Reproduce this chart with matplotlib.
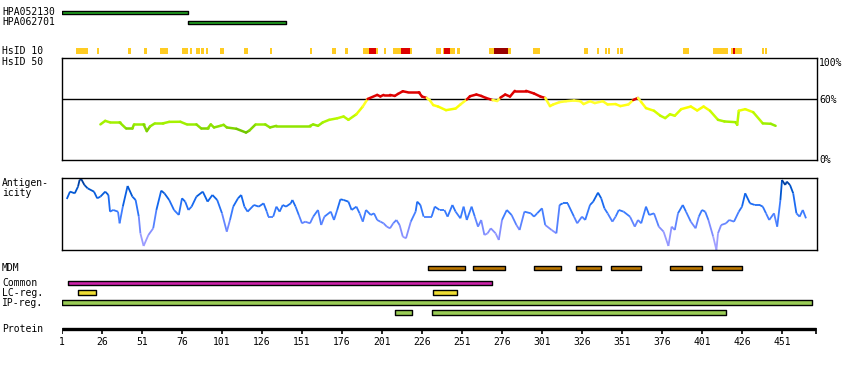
import numpy as np
import matplotlib
matplotlib.use("Agg")
import matplotlib.pyplot as plt
from matplotlib.collections import LineCollection
from matplotlib.colors import LinearSegmentedColormap

plt.rcParams['font.family'] = ['DejaVu Sans Mono']

# ---------------- data ----------------
protein_length = 472
tick_residues = [1, 26, 51, 76, 101, 126, 151, 176, 201, 226, 251, 276, 301, 326, 351, 376, 401, 426, 451]

antibodies = ["HPA052130", "HPA062701"]
antibody_start = [1, 80]
antibody_end = [80, 141]

# HsID 10 segments (residues) with level: y = >=? yellow, r = red, d = dark red
hsid10_start = [10, 23, 42, 52, 62, 76, 81, 85, 88, 91, 100, 115, 131, 156, 170, 178, 189, 193, 197,
                202, 208, 213, 218.5, 235, 239, 240, 243.5, 248, 268, 271, 280, 295.5, 327, 335.5,
                340.5, 342.5, 348, 350, 389, 408, 419, 420.5, 421.5, 438.5, 440.5]
hsid10_end = [17, 24, 44, 54, 67, 80, 82, 87, 90, 92, 102, 117, 132, 157, 172, 180, 193, 197, 198.5,
              203.5, 213, 218.5, 220, 238, 240, 243.5, 246.5, 250, 271, 280, 281.5, 300, 330, 336.5,
              341.5, 343.5, 349, 351.5, 393, 417, 420.5, 421.5, 426, 440, 441.5]
hsid10_level = ['y', 'y', 'y', 'y', 'y', 'y', 'y', 'y', 'y', 'y', 'y', 'y', 'y', 'y', 'y', 'y', 'y', 'r', 'y',
                'y', 'y', 'r', 'y', 'y', 'y', 'r', 'y', 'y', 'y', 'd', 'y', 'y', 'y', 'y',
                'y', 'y', 'y', 'y', 'y', 'y', 'y', 'r', 'y', 'y', 'y']

# HsID 50 identity (%)
hsid50_res = [25, 28, 31, 37, 41, 45, 46, 52, 54, 56, 59, 64, 68, 75, 79, 85, 88, 92, 94, 96, 100, 102,
              104, 110, 116, 118, 122, 128, 131, 135, 156, 158, 161, 164, 168, 173, 177, 180, 185, 189,
              192, 198, 200, 202, 206, 209, 211, 214, 217, 224, 226, 229, 231, 233, 236, 241, 247, 250,
              254, 256, 260, 263, 266, 270, 273, 275, 278, 281, 284, 291, 296, 300, 303, 306, 308, 312,
              316, 321, 325, 327, 331, 334, 339, 342, 347, 350, 355, 358, 361, 363, 366, 371, 375, 378,
              381, 384, 388, 394, 398, 402, 406, 411, 415, 422, 423, 424, 428, 433, 439, 444, 447]
hsid50_val = [35.0, 38.5, 37, 37, 31, 31, 35, 35, 28.4, 33, 36, 36, 37.5, 37.6, 35, 35, 31, 31, 35, 32,
              33.6, 34.6, 32, 30.7, 27, 28.8, 35, 35, 32, 33.6, 33.6, 35, 33.6, 37, 39.5, 41, 42.8, 39.5,
              45, 52.6, 60, 64, 62.5, 64, 64, 63, 65, 67.6, 66.6, 66.6, 62.4, 61, 58.5, 54, 52.6, 49,
              50.6, 54.6, 59.5, 62.7, 64.4, 63, 61, 59, 58, 61.3, 64.4, 62.4, 68, 68, 65.4, 62.4, 61, 53,
              54.6, 56.9, 57.8, 58.5, 57.8, 55, 57.8, 56, 57.8, 54.6, 55, 53, 54.6, 59, 61, 57, 51, 48.4,
              43.5, 41.2, 45, 43.5, 50, 52.6, 48.7, 52.6, 48.4, 39.5, 37.9, 37.2, 34.6, 48.4, 50, 47, 36,
              35.6, 33.6]

# Antigenicity score (arbitrary units, 0-215)
antigen_res = [4, 6, 9, 11, 12, 13, 15, 17, 21, 23, 25, 28, 30, 31, 33, 36, 37, 39, 42, 45, 47, 49, 50,
               52, 55, 58, 60, 63, 65, 68, 71, 74, 76, 78, 80, 82, 85, 89, 92, 95, 98, 101, 104, 106,
               108, 111, 113, 115, 117, 121, 124, 127, 129, 130, 133, 135, 137, 139, 141, 144, 145, 147,
               149, 151, 153, 156, 158, 161, 163, 165, 169, 171, 173, 175, 177, 180, 182, 185, 187, 189,
               191, 194, 196, 198, 200, 202, 204, 206, 208, 210, 212, 214, 216, 219, 222, 223, 225, 227,
               229, 232, 234, 237, 240, 242, 245, 247, 250, 252, 254, 257, 259, 261, 263, 265, 267, 269,
               272, 274, 276, 279, 282, 285, 287, 290, 294, 296, 298, 301, 303, 307, 310, 312, 314, 317,
               321, 323, 326, 328, 331, 333, 336, 338, 340, 342, 345, 347, 349, 352, 356, 359, 361, 363,
               366, 368, 371, 374, 377, 380, 382, 384, 386, 389, 391, 394, 397, 399, 401, 403, 405, 408,
               410, 411, 413, 416, 418, 421, 424, 426, 428, 431, 434, 437, 439, 441, 443, 446, 448, 450,
               451, 453, 454, 456, 458, 460, 462, 464, 466]
antigen_val = [153, 175, 170, 190, 210, 213, 195, 185, 175, 155, 160, 175, 165, 115, 120, 115, 80, 130,
               192, 160, 150, 100, 50, 12, 45, 65, 120, 178, 170, 150, 120, 105, 155, 145, 120, 130, 160,
               175, 145, 165, 150, 110, 55, 90, 130, 155, 165, 130, 115, 135, 130, 140, 115, 100, 100,
               130, 115, 135, 130, 140, 150, 130, 105, 80, 85, 80, 100, 120, 75, 100, 115, 90, 120, 152,
               150, 145, 120, 130, 110, 85, 120, 105, 110, 90, 85, 80, 70, 65, 80, 90, 75, 40, 35, 85,
               115, 145, 135, 100, 100, 100, 130, 120, 120, 100, 135, 115, 95, 130, 90, 130, 100, 70, 90,
               45, 50, 65, 50, 30, 90, 120, 105, 75, 60, 115, 110, 100, 110, 125, 75, 60, 50, 135, 140,
               140, 100, 80, 100, 90, 135, 145, 172, 155, 125, 110, 85, 100, 120, 115, 100, 70, 90, 80,
               130, 105, 110, 70, 55, 12, 70, 60, 110, 135, 115, 85, 65, 100, 120, 115, 90, 40, 0, 50,
               75, 80, 90, 85, 115, 130, 170, 140, 135, 135, 130, 110, 90, 110, 70, 150, 210, 195, 205,
               195, 170, 110, 100, 120, 95]

mdm_start = [230, 258, 296, 322, 344, 381, 407]
mdm_end = [253, 278, 313, 338, 363, 401, 426]
common_start = [5]
common_end = [270]
lc_start = [11, 233]
lc_end = [22, 248]
ip_start = [1]
ip_end = [470]
ip2_start = [209, 232]
ip2_end = [220, 416]

# ---------------- layout helpers ----------------
W, H = 850, 370
fig = plt.figure(figsize=(W / 100, H / 100), dpi=100)
XL, XR = 62, 817
px_per_res = 1.6
xlim = (1, 1 + (XR - XL) / px_per_res)


def ax_at(x0, y0, x1, y1):
    return fig.add_axes([x0 / W, 1 - y1 / H, (x1 - x0) / W, (y1 - y0) / H])


def label(x, y, s, **kw):
    fig.text(x / W, 1 - y / H, s, fontsize=7, va='center', ha='left', **kw)


# bar tracks axes (y in row units of the figure)
axb = ax_at(XL, 0, XR, H)
axb.set_xlim(*xlim)
axb.set_ylim(H, 0)
axb.axis('off')


def bars(starts, ends, y0, h, color, edge=True):
    axb.broken_barh([(s, e - s) for s, e in zip(starts, ends)], (y0, h), facecolors=color,
                    edgecolors='black' if edge else 'none', linewidth=1.0 if edge else 0)


bars(antibody_start[:1], antibody_end[:1], 10.5, 3.5, '#22AA22')
bars(antibody_start[1:], antibody_end[1:], 20.5, 3.5, '#22AA22')

lvl_col = {'y': '#FFCC22', 'r': '#DD0000', 'd': '#990000'}
for s, e, l in zip(hsid10_start, hsid10_end, hsid10_level):
    axb.broken_barh([(s, e - s)], (48, 6.3), facecolors=lvl_col[l], edgecolors='none')

bars(mdm_start, mdm_end, 265.5, 4.3, '#BB7700')
bars(common_start, common_end, 280.5, 4.0, '#CC22AA')
bars(lc_start, lc_end, 290.3, 4.2, '#EEDD33')
bars(ip_start, ip_end, 300.3, 4.2, '#99CC55')
bars(ip2_start, ip2_end, 310.3, 4.2, '#99CC55')

# protein axis
axb.plot([1, protein_length], [329.2, 329.2], color='black', linewidth=2.4, solid_capstyle='butt')
axb.vlines(tick_residues + [protein_length], 328, 333.5, color='black', linewidth=1.2)
for t in tick_residues:
    axb.text(t, 341.7, str(t), fontsize=7, ha='center', va='center')

# left labels
label(2, 12.3, antibodies[0])
label(2, 22.3, antibodies[1])
label(2, 51.5, "HsID 10")
label(2, 61.7, "HsID 50")
label(2, 182.7, "Antigen-")
label(2, 193.3, "icity")
label(2, 268, "MDM")
label(2, 282.7, "Common")
label(2, 292.7, "LC-reg.")
label(2, 302.7, "IP-reg.")
label(2, 329.5, "Protein")

# ---------------- HsID 50 panel ----------------
axh = ax_at(XL, 58.3, XR, 160)
axh.set_xlim(*xlim)
axh.set_ylim(0, 100)
axh.set_xticks([])
axh.set_yticks([])
for sp in axh.spines.values():
    sp.set_linewidth(1.0)
axh.axhline(60, color='black', linewidth=1.0)

green_cmap = LinearSegmentedColormap.from_list(
    'hs', [(0.0, '#55AA00'), (0.25, '#77CC00'), (0.375, '#99EE00'),
           (0.625, '#CCFF00'), (0.8, '#FFFF00'), (1.0, '#FFFF44')])
hx = np.array(hsid50_res, dtype=float)
hy = np.array(hsid50_val, dtype=float)
segs = np.stack([np.column_stack([hx[:-1], hy[:-1]]), np.column_stack([hx[1:], hy[1:]])], axis=1)
mid = (hy[:-1] + hy[1:]) / 2
cols = [('#DD0000' if m >= 60 else green_cmap(np.clip((m - 20) / 40, 0, 1))) for m in mid]
axh.add_collection(LineCollection(segs, colors=cols, linewidths=1.8, capstyle='round'))

fig.text(819 / W, 1 - 58.5 / H, "100%", fontsize=7, ha='left', va='top')
fig.text(819 / W, 1 - 100.3 / H, "60%", fontsize=7, ha='left', va='center')
fig.text(819 / W, 1 - 160 / H, "0%", fontsize=7, ha='left', va='center')

# ---------------- Antigenicity panel ----------------
axa = ax_at(XL, 178.3, XR, 250)
axa.set_xlim(*xlim)
axa.set_ylim(0, 215)
axa.set_xticks([])
axa.set_yticks([])
for sp in axa.spines.values():
    sp.set_linewidth(1.0)

blue_cmap = LinearSegmentedColormap.from_list(
    'ag', [(0.0, '#B0A8FF'), (0.3, '#7F8CFF'), (0.5, '#3C7CFF'), (0.7, '#1166EE'),
           (0.85, '#0055CC'), (1.0, '#003388')])
axx = np.array(antigen_res, dtype=float)
ayy = np.array(antigen_val, dtype=float)
segs = np.stack([np.column_stack([axx[:-1], ayy[:-1]]), np.column_stack([axx[1:], ayy[1:]])], axis=1)
mid = (ayy[:-1] + ayy[1:]) / 2
axa.add_collection(LineCollection(segs, colors=[blue_cmap(m / 215) for m in mid], linewidths=1.3))

fig.savefig("out.png", dpi=100)
